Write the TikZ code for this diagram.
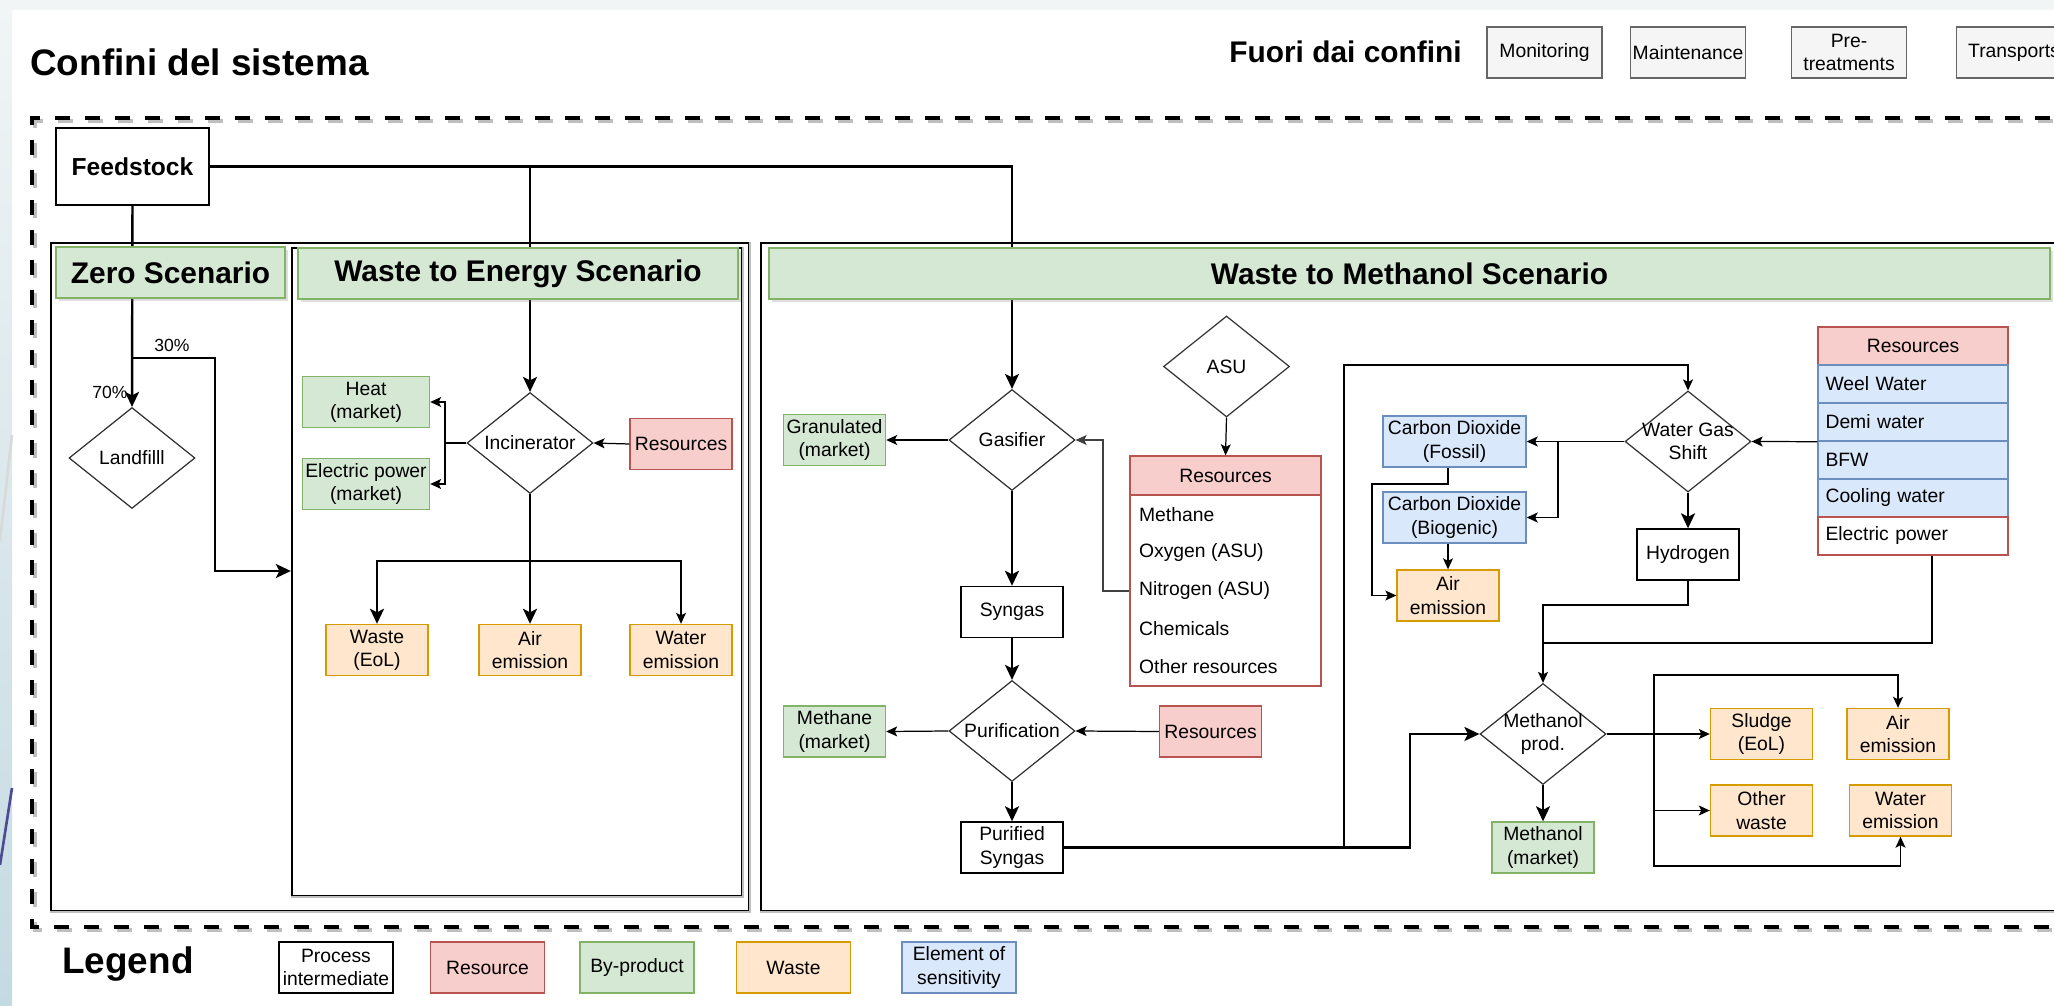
\documentclass[tikz,border=0pt]{standalone}
\usepackage{fontspec}
\setmainfont{Liberation Sans}
\usepackage{tikz}
\usetikzlibrary{shapes.geometric, arrows.meta, fit, shadows}

\definecolor{resfill}{HTML}{F8CECC}
\definecolor{resline}{HTML}{B85450}
\definecolor{byfill}{HTML}{D5E8D4}
\definecolor{byline}{HTML}{82B366}
\definecolor{wastefill}{HTML}{FFE6CC}
\definecolor{wasteline}{HTML}{D79B00}
\definecolor{sensfill}{HTML}{DAE8FC}
\definecolor{sensline}{HTML}{6C8EBF}
\definecolor{extfill}{HTML}{F5F5F5}
\definecolor{extline}{HTML}{666666}
\definecolor{edgetop}{HTML}{F1F5F6}
\definecolor{edgebot}{HTML}{C4DAE2}

\begin{document}
\begin{tikzpicture}[
		x=0.02cm, y=-0.02cm,
		box/.style={rectangle, draw, line width=0.8pt, align=center, inner sep=1pt, font=\fontsize{11}{13.2}\selectfont, minimum width=2.04cm, minimum height=1.02cm},
		process/.style={box, draw=black, fill=white},
		resource/.style={box, draw=resline, fill=resfill},
		byprod/.style={box, draw=byline, fill=byfill},
		wastebox/.style={box, draw=wasteline, fill=wastefill},
		sens/.style={box, draw=sensline, fill=sensfill},
		extbox/.style={box, draw=extline, fill=extfill, minimum width=2.3cm},
		unit/.style={diamond, draw=black!80, line width=0.7pt, fill=white, align=center, inner sep=-0.3cm, minimum width=2.52cm, minimum height=2.02cm, font=\fontsize{11}{13.2}\selectfont},
		header/.style={rectangle, draw=byline, fill=byfill, line width=0.9pt, minimum height=1.02cm, font=\bfseries\fontsize{17}{20}\selectfont, drop shadow={opacity=0.25, shadow xshift=0.06cm, shadow yshift=-0.06cm}},
		zone/.style={rectangle, draw=black, line width=1.3pt, inner sep=0pt},
		zoneshadow/.style={draw=black!25, line width=1.3pt, shift={(0.06cm,-0.06cm)}},
		tablerow/.style={rectangle, line width=0.8pt, text width=3.5cm, inner sep=0.15cm, minimum height=0.76cm, align=left, font=\fontsize{11}{13.2}\selectfont},
		flow/.style={-{Stealth[length=0.22cm, width=0.2cm, inset=0.05cm]}, line width=0.7pt},
		mainflow/.style={-{Stealth[length=0.3cm, width=0.28cm, inset=0.07cm]}, line width=1.4pt},
		pct/.style={font=\fontsize{10}{12}\selectfont, inner sep=1pt}
		]
		
		% Page and background
		\useasboundingbox (0,0) rectangle (2054,1006);
		\clip (0,0) rectangle (2054,1006);
		\fill[white] (0,0) rectangle (2054,1006);
		\fill[edgetop] (0,0) rectangle (2054,10);
		\shade[top color=edgetop, bottom color=edgebot] (0,0) rectangle (12,1006);
		\draw[black!15, line width=1.5pt] (0,541) -- (12,435);
		\draw[blue!40!black!70, line width=1.5pt] (0,865) -- (12,788);
		
		% Titles
		\node[anchor=west, inner sep=0pt, font=\bfseries\fontsize{21}{24}\selectfont] (title) at (30,62) {Confini del sistema};
		\node[anchor=west, inner sep=0pt, font=\bfseries\fontsize{17}{20}\selectfont] (outtitle) at (1229,52) {Fuori dai confini};
		
		% Outside the boundary
		\foreach \i/\x/\txt in {1/1544.5/Monitoring, 2/1688/Maintenance, 3/1849/{Pre-\\treatments}, 4/2014/Transports}
		\node[extbox] (ext\i) at (\x,52.5) {\txt};
		
		% System boundary
		\draw[black!25, line width=2.3pt, dash pattern=on 0.3cm off 0.3cm, shift={(0.06cm,-0.06cm)}] (2080,118) -| (32,927) -- (2080,927);
		\draw[line width=2.3pt, dash pattern=on 0.3cm off 0.3cm] (2080,118) -| (32,927) -- (2080,927);
		
		% Scenario frames
		\node[zone, fit={(51,243) (749,911)}] (frameA) {};
		\node[zone, fit={(292,248) (742,896)}] (wtebox) {};
		\node[zone, fit={(761,243) (2080,911)}] (frameB) {};
		\foreach \f in {frameA, wtebox, frameB}
		\draw[zoneshadow] (\f.north east) |- (\f.south west);
		
		% Feedstock
		\node[process, minimum width=3.06cm, minimum height=1.54cm, font=\bfseries\fontsize{14}{17}\selectfont] (feed) at (132.5,166.5) {Feedstock};
		
		% Zero scenario
		\node[unit] (land) at (132,458) {Landfilll};
		
		% Waste to energy
		\node[unit] (inc) at (530,443) {Incinerator};
		\node[byprod, minimum width=2.54cm] (heat) at (366,402) {Heat\\(market)};
		\node[byprod, minimum width=2.54cm] (elec) at (366,484) {Electric power\\(market)};
		\node[resource] (resinc) at (681,444) {Resources};
		\foreach \n/\x/\txt in {wasteA/377/{Waste\\(EoL)}, airA/530/{Air\\emission}, waterA/681/{Water\\emission}}
		\node[wastebox] (\n) at (\x,650) {\txt};
		
		% Waste to methanol: gasification line
		\node[unit] (gas) at (1012,440) {Gasifier};
		\node[byprod] (gran) at (834.5,440) {Granulated\\(market)};
		\node[unit] (asu) at (1226.5,366.5) {ASU};
		\node[process] (syn) at (1012,612) {Syngas};
		\node[unit] (pur) at (1012,731) {Purification};
		\node[byprod] (meth) at (834.5,731.5) {Methane\\(market)};
		\node[resource] (respur) at (1210.5,731.5) {Resources};
		\node[process] (psyn) at (1012,847.5) {Purified\\Syngas};
		
		% Resources of the gasifier
		\node[rectangle, draw=resline, line width=0.8pt, minimum width=3.82cm, minimum height=3.82cm] (resAbody) at (1225.5,590.5) {};
		\node[resource, minimum width=3.82cm, minimum height=0.78cm] (resAhead) at (1225.5,475.5) {Resources};
		\foreach \i/\txt in {1/Methane, 2/Oxygen (ASU), 3/Nitrogen (ASU), 4/Chemicals, 5/Other resources}
		\node[anchor=west, inner sep=1pt, font=\fontsize{11}{13.2}\selectfont] (resA\i) at (1137,{477+38*\i}) {\txt};
		
		% Water gas shift
		\node[unit] (wgs) at (1688,441.5) {Water Gas\\Shift};
		\node[sens, minimum width=2.86cm] (co2f) at (1454.5,441.5) {Carbon Dioxide\\(Fossil)};
		\node[sens, minimum width=2.86cm] (co2b) at (1454.5,517.5) {Carbon Dioxide\\(Biogenic)};
		\node[wastebox] (airB) at (1448,595.5) {Air\\emission};
		\node[process] (hyd) at (1688,554.5) {Hydrogen};
		
		% Resources of the shift
		\node[resource, minimum width=3.8cm, minimum height=0.76cm] (resBhead) at (1913,346) {Resources};
		\foreach \i/\txt in {1/Weel Water, 2/Demi water, 3/BFW, 4/Cooling water}
		\node[tablerow, draw=sensline, fill=sensfill] (resB\i) at (1913,{346+38*\i}) {\txt};
		\node[tablerow, draw=resline, fill=white] (resB5) at (1913,536) {Electric power};
		
		% Methanol synthesis
		\node[unit] (meoh) at (1543,734) {Methanol\\prod.};
		\node[byprod] (meohm) at (1543,847.5) {Methanol\\(market)};
		\node[wastebox] (sludge) at (1761.5,734) {Sludge\\(EoL)};
		\node[wastebox] (airC) at (1898,734) {Air\\emission};
		\node[wastebox] (owaste) at (1761.5,810.5) {Other\\waste};
		\node[wastebox] (waterC) at (1900.5,810.5) {Water\\emission};
		
		% Feedstock distribution
		\draw[mainflow] (feed.east) -| (gas.north);
		\draw[mainflow] (inc.north |- feed.east) -- (inc.north);
		\draw[mainflow] (feed.south) -- (land.north);
		
		% Scenario headers
		\node[header, minimum width=4.58cm] (zerohead) at (170.5,272.5) {Zero Scenario};
		\node[header, minimum width=8.8cm] (wtehead) at (518,273.5) {Waste to Energy Scenario};
		\node[header, minimum width=25.62cm] (wtmhead) at (1409.5,273.5) {Waste to Methanol Scenario};
		
		% Zero scenario split
		\coordinate (split) at (132,358);
		\draw[mainflow] (split) -| (215,571) -- (wtebox.west |- 215,571);
		\node[pct] (p70) at (110,392) {70\%};
		\node[pct] (p30) at (172,345) {30\%};
		
		% Incinerator flows
		\coordinate (incsplit) at (445,443);
		\draw[line width=0.7pt] (inc.west) -- (incsplit);
		\draw[flow] (incsplit) |- (heat.east);
		\draw[flow] (incsplit) |- (elec.east);
		\draw[flow] (resinc.west) -- (inc.east);
		\coordinate (incdown) at (530,561);
		\draw[line width=1.4pt] (inc.south) -- (incdown);
		\draw[mainflow] (incdown) -| (wasteA.north);
		\draw[mainflow] (incdown) -- (airA.north);
		\draw[flow] (incdown) -| (waterA.north);
		
		% Gasification flows
		\draw[flow] (gas.west) -- (gran.east);
		\draw[flow] (asu.south) -- (resAhead.north);
		\draw[flow, black!75] (resAbody.west |- resA3) -| (1103,440) -- (gas.east);
		\draw[mainflow] (gas.south) -- (syn.north);
		\draw[mainflow] (syn.south) -- (pur.north);
		\draw[flow] (respur.west) -- (pur.east);
		\draw[flow] (pur.west) -- (meth.east);
		\draw[mainflow] (pur.south) -- (psyn.north);
		\coordinate (tap) at (1344,847.5);
		\draw[mainflow] (psyn.east) -- (1410,847.5) |- (meoh.west);
		\draw[flow] (tap) -- (1344,365) -| (wgs.north);
		
		% Shift flows
		\draw[flow] (resB2.south west) -- (wgs.east);
		\draw[flow] (wgs.west) -- (co2f.east);
		\draw[flow] (1558,441.5) |- (co2b.east);
		\draw[mainflow] (wgs.south) -- (hyd.north);
		\draw[flow] (airB.north |- co2b.south) -- (airB.north);
		\draw[flow] (airB.north |- co2f.south) |- (1372,484) |- (airB.west);
		\coordinate (h2turn) at (1543,605);
		\draw[flow] (hyd.south) |- (h2turn) -- (meoh.north);
		\draw[line width=0.7pt] ([xshift=0.38cm]resB5.south) |- (1543,643);
		
		% Methanol flows
		\draw[mainflow] (meoh.south) -- (meohm.north);
		\draw[flow] (meoh.east) -- (sludge.west);
		\coordinate (mbus) at (1654,734);
		\draw[flow] (mbus) -- (1654,675) -| (airC.north);
		\draw[flow] (mbus) |- (owaste.west);
		\draw[flow] (mbus) -- (1654,866) -| (waterC.south);
		
		% Legend
		\node[anchor=west, inner sep=0pt, font=\bfseries\fontsize{21}{24}\selectfont] (legend) at (62,964) {Legend};
		\foreach \n/\s/\x/\txt in {lproc/process/336/{Process\\intermediate}, lres/resource/487.5/Resource, lby/byprod/637/By-product, lwaste/wastebox/793.5/Waste, lsens/sens/959/{Element of\\sensitivity}}
		\node[\s, minimum width=2.28cm] (\n) at (\x,967.5) {\txt};
		
	\end{tikzpicture}
\end{document}
